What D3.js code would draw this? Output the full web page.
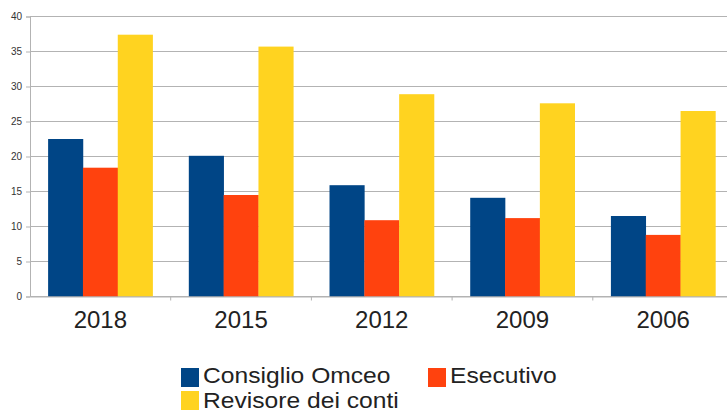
<!DOCTYPE html>
<html>
<head>
<meta charset="utf-8">
<script src="https://cdn.jsdelivr.net/npm/d3@7"></script>
<style>
  body { margin: 0; background: #fff; }
  svg { display: block; font-family: "Liberation Sans", Arial, sans-serif; }
</style>
</head>
<body>
<svg id="chart" width="727" height="412"></svg>
<script>
const years = ['2018', '2015', '2012', '2009', '2006'];
const series = ['Consiglio Omceo', 'Esecutivo', 'Revisore dei conti'];
const consiglio = [22.5, 20.1, 15.9, 14.1, 11.5];
const esecutivo = [18.4, 14.5, 10.9, 11.2, 8.8];
const revisore = [37.4, 35.7, 28.9, 27.6, 26.5];
const yTicks = [0, 5, 10, 15, 20, 25, 30, 35, 40];

const colors = ['#004586', '#ff420e', '#ffd320'];

const width = 727, height = 412;
const margin = ({top: 16.5, right: -6.5, bottom: 115.5, left: 30});

const rows = years.map((y, i) => ({
    year: y,
    values: [consiglio[i], esecutivo[i], revisore[i]]
}));

const svg = d3.select('#chart');

const xScale = d3.scaleBand()
    .domain(years)
    .range([margin.left, width - margin.right])
    .padding(0);

const xInner = d3.scaleBand()
    .domain(series)
    .range([0, xScale.bandwidth()])
    .paddingOuter(0.52)
    .paddingInner(0);

const yScale = d3.scaleLinear()
    .domain([0, 40])
    .range([height - margin.bottom, margin.top]);

// grid lines
svg.append('g')
    .selectAll('line')
    .data(yTicks)
    .join('line')
    .attr('x1', margin.left)
    .attr('x2', width)
    .attr('y1', d => yScale(d))
    .attr('y2', d => yScale(d))
    .attr('stroke', '#b3b3b3')
    .attr('stroke-width', 1);

// bars
svg.append('g')
    .selectAll('g')
    .data(rows)
    .join('g')
    .attr('transform', d => `translate(${xScale(d.year)},0)`)
    .selectAll('rect')
    .data(d => d.values.map((v, k) => ({key: series[k], value: v, k})))
    .join('rect')
    .attr('x', d => xInner(d.key))
    .attr('y', d => yScale(d.value))
    .attr('width', xInner.bandwidth() + 0.3)
    .attr('height', d => yScale(0) - yScale(d.value))
    .attr('fill', d => colors[d.k]);

// y axis
const yAxis = svg.append('g')
    .attr('transform', `translate(${margin.left},0)`)
    .call(d3.axisLeft(yScale).tickValues(yTicks).tickSize(4).tickPadding(4));
yAxis.select('.domain').attr('stroke', '#b3b3b3');
yAxis.selectAll('.tick line').attr('stroke', '#b3b3b3');
yAxis.selectAll('.tick text')
    .attr('fill', '#333')
    .style('font-size', '10px')
    .style('font-family', '"Liberation Sans", Arial, sans-serif');

// x axis
const xAxis = svg.append('g')
    .attr('transform', `translate(0,${yScale(0)})`)
    .call(d3.axisBottom(xScale).tickSize(0).tickPadding(0));
xAxis.select('.domain').attr('stroke', '#b3b3b3');
xAxis.selectAll('.tick text')
    .attr('dy', null)
    .attr('y', 31)
    .attr('fill', '#222')
    .style('font-size', '24px')
    .style('font-family', '"Liberation Sans", Arial, sans-serif');

// category separators
svg.append('g')
    .selectAll('line')
    .data(years.slice(1).concat(['end']))
    .join('line')
    .attr('x1', (d, i) => margin.left + xScale.bandwidth() * (i + 1))
    .attr('x2', (d, i) => margin.left + xScale.bandwidth() * (i + 1))
    .attr('y1', yScale(0))
    .attr('y2', yScale(0) + 4)
    .attr('stroke', '#b3b3b3');

// legend
const legendItems = [
    {name: series[0], x: 181, y: 383, sy: 368, c: colors[0]},
    {name: series[1], x: 428, y: 383, sy: 368, c: colors[1]},
    {name: series[2], x: 181, y: 407.5, sy: 391, c: colors[2]}
];
const legend = svg.append('g')
    .selectAll('g')
    .data(legendItems)
    .join('g');
legend.append('rect')
    .attr('x', d => d.x)
    .attr('y', d => d.sy)
    .attr('width', 18)
    .attr('height', 19)
    .attr('fill', d => d.c);
legend.append('g')
    .attr('transform', d => `translate(${d.x + 22},${d.y}) scale(1.12,1)`)
    .append('text')
    .attr('fill', '#222')
    .style('font-size', '22px')
    .text(d => d.name);
</script>
</body>
</html>
